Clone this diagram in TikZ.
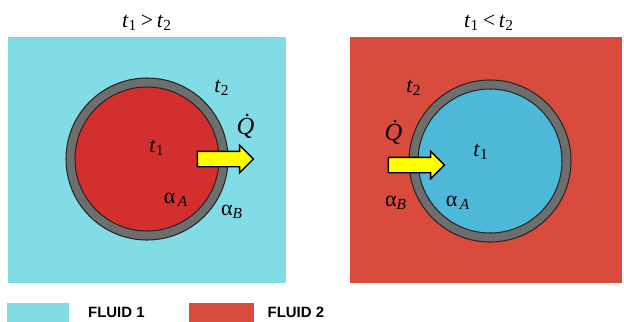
\documentclass[tikz,border=0pt]{standalone}
\usepackage{fontspec}
\setmainfont{Liberation Serif}
\newfontfamily\legendfont{Liberation Sans}
\usetikzlibrary{shapes.arrows, positioning}
\definecolor{fluidone}{HTML}{82DCE6}
\definecolor{fluidtwo}{HTML}{D94B3D}
\definecolor{coreone}{HTML}{D32F2F}
\definecolor{coretwo}{HTML}{4DB8D8}
\definecolor{wallgray}{HTML}{6E6E6E}
\definecolor{heatyellow}{HTML}{FFFF00}

\begin{document}
\begin{tikzpicture}[
        x=0.02cm, y=-0.02cm,
        lbl/.style={inner sep=0pt, font=\fontsize{12.5}{14}\selectfont},
        heat/.style={single arrow, draw=black, thick, fill=heatyellow, minimum height=1.12cm, minimum width=0.52cm, single arrow head extend=0.12cm, inner ysep=0.14cm, inner xsep=0pt},
        keybox/.style={rectangle, fill=#1, minimum width=1.26cm, minimum height=0.38cm, inner sep=0pt},
        keytext/.style={inner sep=0pt, font=\legendfont\bfseries\fontsize{8.5}{10}\selectfont}
    ]
        \useasboundingbox (0,0) rectangle (624,321);

        % left case: hot core in cold fluid
        \fill[fluidone] (8,37) rectangle (286,283);
        \filldraw[fill=wallgray, draw=black!85, semithick] (147,159) circle[radius=81];
        \filldraw[fill=coreone, draw=black!85, semithick] (147,159) circle[radius=72];
        \node[heat] (heatA) at (221.5,159) {};
        \node[lbl] (titleA) at (147,23) {\textit{t}\textsubscript{1}\,>\,\textit{t}\textsubscript{2}};
        \node[lbl] (outA) at (222,88) {\textit{t}\textsubscript{2}};
        \node[lbl] (inA) at (157,148) {\textit{t}\textsubscript{1}};
        \node[lbl, font=\fontsize{14}{16}\selectfont] (qA) at (249,126) {\textit{\.{Q}}};
        \node[lbl] (alphaAA) at (176,200) {α\textsubscript{\,\textit{A}}};
        \node[lbl] (alphaBA) at (232,212) {α\textsubscript{\textit{B}}};

        % right case: cold core in hot fluid
        \fill[fluidtwo] (350,37) rectangle (622,283);
        \filldraw[fill=wallgray, draw=black!85, semithick] (490,161) circle[radius=81];
        \filldraw[fill=coretwo, draw=black!85, semithick] (490,161) circle[radius=72];
        \node[heat] (heatB) at (412.5,165) {};
        \node[lbl] (titleB) at (489,23) {\textit{t}\textsubscript{1}\,<\,\textit{t}\textsubscript{2}};
        \node[lbl] (outB) at (414,88) {\textit{t}\textsubscript{2}};
        \node[lbl] (inB) at (481,152) {\textit{t}\textsubscript{1}};
        \node[lbl, font=\fontsize{14}{16}\selectfont] (qB) at (397,132) {\textit{\.{Q}}};
        \node[lbl] (alphaBB) at (396,203) {α\textsubscript{\textit{B}}};
        \node[lbl] (alphaAB) at (458,203) {α\textsubscript{\,\textit{A}}};

        % legend
        \node[keybox=fluidone] (keyA) at (38,312) {};
        \node[keytext, right=0.36cm of keyA] (keyAtext) {FLUID 1};
        \node[keybox=fluidtwo, minimum width=1.3cm] (keyB) at (221.5,312) {};
        \node[keytext, right=0.26cm of keyB] (keyBtext) {FLUID 2};
    \end{tikzpicture}
\end{document}
